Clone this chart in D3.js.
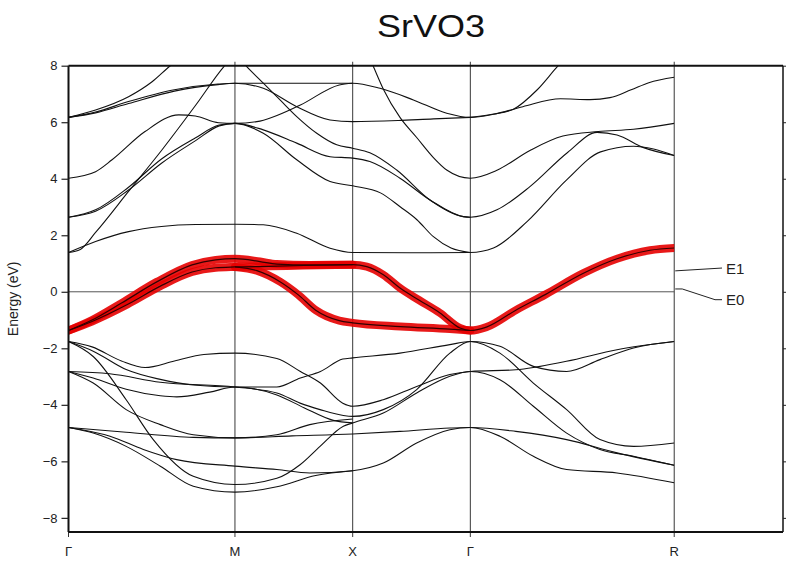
<!DOCTYPE html>
<html lang="en">
<head>
<meta charset="utf-8">
<script src="https://d3js.org/d3.v7.min.js"></script>
<style>
  body { margin: 0; background: #fff; }
  svg { display: block; font-family: "Liberation Sans", Arial, Helvetica, sans-serif; }
</style>
</head>
<body>
<div id="plot"></div>
<script>
// high symmetry points along the path (k in units of 2pi/a)
const kPoints = [0, 1.414, 2.414, 3.414, 5.146];
const kLabels = ["Γ", "M", "X", "Γ", "R"];
const energyTicks = [-8, -6, -4, -2, 0, 2, 4, 6, 8];
const legendLabels = ["E1", "E0"];

// V t2g bands (fat bands), [k, E]
const redBands = [
  [[0,-1.37],[0.2,-1.0],[0.45,-0.4],[0.75,0.35],[1.05,0.95],[1.25,1.13],[1.414,1.17],
   [1.627,1.07],[1.769,0.98],[2.05,0.95],[2.414,0.96],
   [2.534,0.89],[2.675,0.6],[2.816,0.13],[2.98,-0.3],[3.156,-0.75],[3.326,-1.28],[3.414,-1.37],
   [3.55,-1.25],[3.8,-0.65],[4.05,-0.1],[4.37,0.65],[4.66,1.17],[4.94,1.47],[5.146,1.55]],
  [[0,-1.37],[0.2,-1.05],[0.5,-0.45],[0.78,0.2],[1.05,0.7],[1.25,0.85],[1.414,0.88],
   [1.7,0.9],[2.0,0.93],[2.414,0.96]],
  [[1.414,0.88],[1.6,0.75],[1.8,0.35],[1.95,-0.1],[2.1,-0.65],[2.3,-1.02],[2.414,-1.1],
   [2.82,-1.23],[3.24,-1.32],[3.414,-1.37]]
];

// conduction bands above E_F
const upperBands = [
  [[0,6.17],[0.23,6.43],[0.51,6.9],[0.71,7.43],[0.865,8.0],[1.1,8.7],[1.414,9.2]],
  [[0,1.39],[0.1,1.5],[0.23,2.1],[0.51,3.55],[0.79,5.0],[1.08,6.6],[1.32,7.97],[1.414,8.4],
   [1.514,7.97],[1.655,7.38],[1.797,6.79],[1.939,6.2],[2.109,5.61],[2.279,5.2],[2.414,5.08],
   [2.56,4.92],[2.788,4.31],[3.071,3.25],[3.354,2.66],[3.414,2.64],
   [3.64,2.9],[3.92,3.72],[4.24,4.93],[4.49,5.64],[4.66,5.55],[4.88,5.11],[5.146,4.82]],
  [[0,2.64],[0.23,2.85],[0.51,3.6],[0.79,4.55],[1.08,5.35],[1.28,5.87],[1.414,5.96],
   [1.655,5.61],[1.939,4.67],[2.222,3.9],[2.414,3.75],
   [2.65,3.5],[2.82,3.0],[2.96,2.55],[3.1,1.95],[3.25,1.55],[3.414,1.39]],
  [[0,2.64],[0.23,2.9],[0.51,3.7],[0.79,4.7],[1.08,5.45],[1.28,5.9],[1.414,5.96],
   [1.655,5.73],[1.939,5.26],[2.222,4.78],[2.414,4.73],
   [2.56,4.61],[2.816,4.02],[3.071,3.25],[3.354,2.66],[3.414,2.64]],
  [[0,4.02],[0.23,4.25],[0.37,4.67],[0.65,5.67],[0.936,6.26],[1.077,6.22],[1.276,5.98],[1.414,5.96],
   [1.6,6.02],[1.97,6.61],[2.3,7.32],[2.414,7.38]],
  [[0,6.17],[0.23,6.36],[0.51,6.73],[0.9,7.15],[1.27,7.35],[1.414,7.38],
   [1.9,7.38],[2.414,7.38],
   [2.647,7.2],[2.93,6.79],[3.213,6.32],[3.414,6.17],
   [3.61,6.28],[3.86,6.55],[4.18,6.83],[4.43,6.8],[4.6,6.87],[4.78,7.15],[4.93,7.4],[5.146,7.59]],
  [[0,6.17],[0.23,6.33],[0.51,6.66],[0.9,7.1],[1.27,7.33],[1.414,7.38],
   [1.655,7.2],[1.939,6.55],[2.222,6.08],[2.414,6.02],
   [2.8,6.06],[3.1,6.12],[3.414,6.17]],
  [[3.414,6.17],[3.6,6.28],[3.78,6.46],[3.98,7.14],[4.16,8.0],[4.4,9.0]],
  [[2.5,8.8],[2.59,7.97],[2.675,7.17],[2.816,6.17],[2.958,5.46],[3.1,4.75],[3.213,4.31],[3.414,4.02],
   [3.64,4.3],[3.92,5.0],[4.2,5.51],[4.5,5.67],[4.8,5.75],[5.146,5.96]],
  [[0,1.39],[0.23,1.78],[0.51,2.13],[0.79,2.31],[1.08,2.38],[1.414,2.39],
   [1.655,2.37],[1.939,2.07],[2.222,1.54],[2.414,1.39],
   [2.9,1.38],[3.414,1.39],
   [3.61,1.55],[3.9,2.5],[4.23,3.95],[4.52,4.95],[4.8,5.15],[4.97,5.05],[5.146,4.82]]
];

// O 2p bands below E_F
const lowerBands = [
  [[0,-1.76],[0.2,-1.95],[0.45,-2.45],[0.65,-2.68],[0.9,-2.45],[1.15,-2.22],[1.414,-2.17],
   [1.77,-2.36],[1.97,-2.82],[2.14,-3.23],[2.33,-3.94],[2.414,-4.05],
   [2.674,-3.82],[2.958,-3.35],[3.24,-2.93],[3.414,-2.82],
   [3.8,-2.76],[4.23,-2.46],[4.66,-2.05],[5.146,-1.76]],
  [[0,-1.76],[0.21,-2.1],[0.49,-2.75],[0.78,-3.1],[1.06,-3.3],[1.414,-3.37],
   [1.77,-3.37],[1.97,-3.05],[2.14,-2.82],[2.33,-2.38],[2.414,-2.34],
   [2.816,-2.17],[3.24,-1.87],[3.414,-1.76],
   [3.665,-1.93],[3.949,-2.64],[4.232,-2.82],[4.515,-2.4],[4.8,-1.99],[5.146,-1.76]],
  [[0,-1.76],[0.21,-2.29],[0.49,-3.82],[0.72,-5.23],[1.06,-6.53],[1.414,-6.82],
   [1.77,-6.6],[1.967,-6.12],[2.137,-5.47],[2.335,-4.76],[2.414,-4.64],
   [2.674,-4.29],[2.958,-3.58],[3.24,-2.99],[3.414,-2.82],
   [3.665,-3.11],[3.949,-4.05],[4.232,-5.0],[4.515,-5.58],[4.8,-5.82],[5.146,-6.14]],
  [[0,-2.82],[0.35,-2.9],[0.78,-3.2],[1.414,-3.37],
   [1.77,-3.58],[1.967,-3.94],[2.137,-4.17],[2.335,-4.38],[2.414,-4.41],
   [2.674,-4.17],[2.958,-3.46],[3.24,-2.17],[3.414,-1.76],
   [3.665,-2.17],[3.949,-3.23],[4.232,-4.17],[4.515,-5.23],[4.8,-5.47],[5.146,-5.35]],
  [[0,-2.82],[0.21,-3.05],[0.49,-3.45],[0.78,-3.68],[0.92,-3.72],[1.2,-3.55],[1.414,-3.37],
   [1.77,-3.65],[2.0,-4.1],[2.25,-4.55],[2.414,-4.64]],
  [[0,-2.82],[0.21,-3.23],[0.49,-4.17],[0.78,-4.7],[1.06,-5.06],[1.414,-5.17],
   [1.77,-5.06],[2.05,-4.7],[2.414,-4.5]],
  [[0,-4.8],[0.49,-4.97],[1.06,-5.15],[1.414,-5.17],
   [1.9,-5.1],[2.414,-5.03],
   [2.816,-4.94],[3.24,-4.82],[3.414,-4.8],
   [3.8,-4.94],[4.232,-5.23],[4.66,-5.7],[5.146,-6.14]],
  [[0,-4.8],[0.353,-5.11],[0.636,-5.58],[0.919,-5.94],[1.414,-6.17],
   [1.77,-6.29],[2.05,-6.41],[2.414,-6.33],
   [2.674,-6.06],[2.958,-5.35],[3.24,-4.88],[3.414,-4.8],
   [3.665,-5.11],[3.949,-5.82],[4.232,-6.29],[4.66,-6.41],[5.146,-6.76]],
  [[0,-4.8],[0.21,-5.0],[0.49,-5.47],[0.78,-6.17],[1.06,-6.88],[1.414,-7.09],
   [1.77,-6.9],[2.1,-6.5],[2.414,-6.33]]
];

const width = 786, height = 561;
const margin = ({top: 65.7, right: 3, bottom: 29, left: 68.5});
const kMax = 6.07;

const x = d3.scaleLinear()
    .domain([0, kMax])
    .range([margin.left, width - margin.right]);

const y = d3.scaleLinear()
    .domain([-8.5, 8])
    .range([height - margin.bottom, margin.top]);

const kEnd = kPoints[kPoints.length - 1];
const yTop = y(8), yBottom = y(-8.5);

const svg = d3.select('#plot').append('svg')
    .attr('width', width)
    .attr('height', height);

svg.append('clipPath').attr('id', 'bands-clip')
  .append('rect')
    .attr('x', x(0))
    .attr('y', yTop)
    .attr('width', x(kEnd) - x(0))
    .attr('height', yBottom - yTop);

// title
svg.append('text')
    .attr('x', 431)
    .attr('y', 37)
    .attr('text-anchor', 'middle')
    .attr('font-size', 31)
    .attr('textLength', 108)
    .attr('lengthAdjust', 'spacingAndGlyphs')
    .attr('fill', '#111')
    .text('SrVO3');

// high symmetry verticals, with small ticks outside the frame
svg.append('g').selectAll('line')
  .data(kPoints.slice(1))
  .join('line')
    .attr('x1', d => x(d)).attr('x2', d => x(d))
    .attr('y1', yTop - 4).attr('y2', yBottom + 5)
    .attr('stroke', '#4a4a4a')
    .attr('stroke-width', 1.1);

svg.append('line')
    .attr('x1', x(0)).attr('x2', x(0))
    .attr('y1', yBottom).attr('y2', yBottom + 5)
    .attr('stroke', '#333');

// Fermi level
svg.append('line')
    .attr('x1', x(0)).attr('x2', x(kEnd))
    .attr('y1', y(0)).attr('y2', y(0))
    .attr('stroke', '#555')
    .attr('stroke-width', 1);

const line = d3.line()
    .x(d => x(d[0]))
    .y(d => y(d[1]))
    .curve(d3.curveMonotoneX);

const bands = svg.append('g').attr('clip-path', 'url(#bands-clip)');

bands.selectAll('path.black')
  .data(upperBands.concat(lowerBands))
  .join('path')
    .attr('class', 'black')
    .attr('d', line)
    .attr('fill', 'none')
    .attr('stroke', '#111')
    .attr('stroke-width', 1.1);

bands.selectAll('path.fat')
  .data(redBands)
  .join('path')
    .attr('class', 'fat')
    .attr('d', line)
    .attr('fill', 'none')
    .attr('stroke', '#e60000')
    .attr('stroke-opacity', 0.9)
    .attr('stroke-width', 8)
    .attr('stroke-linecap', 'round');

bands.selectAll('path.core')
  .data(redBands)
  .join('path')
    .attr('class', 'core')
    .attr('d', line)
    .attr('fill', 'none')
    .attr('stroke', '#300')
    .attr('stroke-width', 1.2);

// frame
const frame = svg.append('g').attr('stroke', '#111').attr('fill', 'none');
frame.append('line').attr('x1', x(0)).attr('x2', x(kMax)).attr('y1', yTop).attr('y2', yTop).attr('stroke-width', 2);
frame.append('line').attr('x1', x(0)).attr('x2', x(kMax)).attr('y1', yBottom).attr('y2', yBottom).attr('stroke-width', 2);
frame.append('line').attr('x1', x(0)).attr('x2', x(0)).attr('y1', yTop).attr('y2', yBottom).attr('stroke-width', 2);
frame.append('line').attr('x1', x(kMax)).attr('x2', x(kMax)).attr('y1', yTop).attr('y2', yBottom).attr('stroke-width', 1.5);

// energy axis
const yAxis = g => g
    .attr('transform', `translate(${x(0)},0)`)
    .call(d3.axisLeft(y).tickValues(energyTicks).tickSize(7).tickPadding(4))
    .call(g => g.select('.domain').remove())
    .call(g => g.selectAll('.tick line').attr('stroke', '#222').attr('stroke-width', 1.2))
    .call(g => g.selectAll('.tick text')
        .attr('font-family', '"Liberation Sans", Arial, sans-serif')
        .attr('font-size', 13)
        .attr('fill', '#222'));
svg.append('g').call(yAxis);

svg.append('g')
    .attr('transform', `translate(${x(kMax)},0)`)
    .call(d3.axisRight(y).tickValues(energyTicks).tickSize(7).tickFormat(''))
    .call(g => g.select('.domain').remove())
    .call(g => g.selectAll('.tick line').attr('stroke', '#222'));

svg.append('text')
    .attr('transform', `translate(18,${(yTop + yBottom) / 2}) rotate(-90)`)
    .attr('text-anchor', 'middle')
    .attr('font-size', 14)
    .attr('fill', '#222')
    .text('Energy (eV)');

// k labels
svg.append('g').selectAll('text')
  .data(kPoints)
  .join('text')
    .attr('x', d => x(d))
    .attr('y', 556)
    .attr('text-anchor', 'middle')
    .attr('font-size', 13)
    .attr('fill', '#222')
    .text((d, i) => kLabels[i]);

// legend leaders for the fat band weights
const legendEnergy = [[0.74, 0.84], [0.1, -0.28]];
const lg = svg.append('g');
lg.append('path')
    .attr('d', d3.line()([[x(kEnd) + 1, y(legendEnergy[0][0])], [722, y(legendEnergy[0][1])]]))
    .attr('stroke', '#222').attr('fill', 'none');
lg.append('path')
    .attr('d', d3.line()([[x(kEnd) + 1, y(legendEnergy[1][0])], [x(kEnd) + 8, y(legendEnergy[1][0])],
                          [715, y(legendEnergy[1][1])], [722, y(legendEnergy[1][1])]]))
    .attr('stroke', '#222').attr('fill', 'none');
lg.selectAll('text')
  .data(legendLabels)
  .join('text')
    .attr('x', 726)
    .attr('y', (d, i) => y(legendEnergy[i][1]))
    .attr('dominant-baseline', 'central')
    .attr('font-size', 15)
    .attr('fill', '#222')
    .text(d => d);
</script>
</body>
</html>
